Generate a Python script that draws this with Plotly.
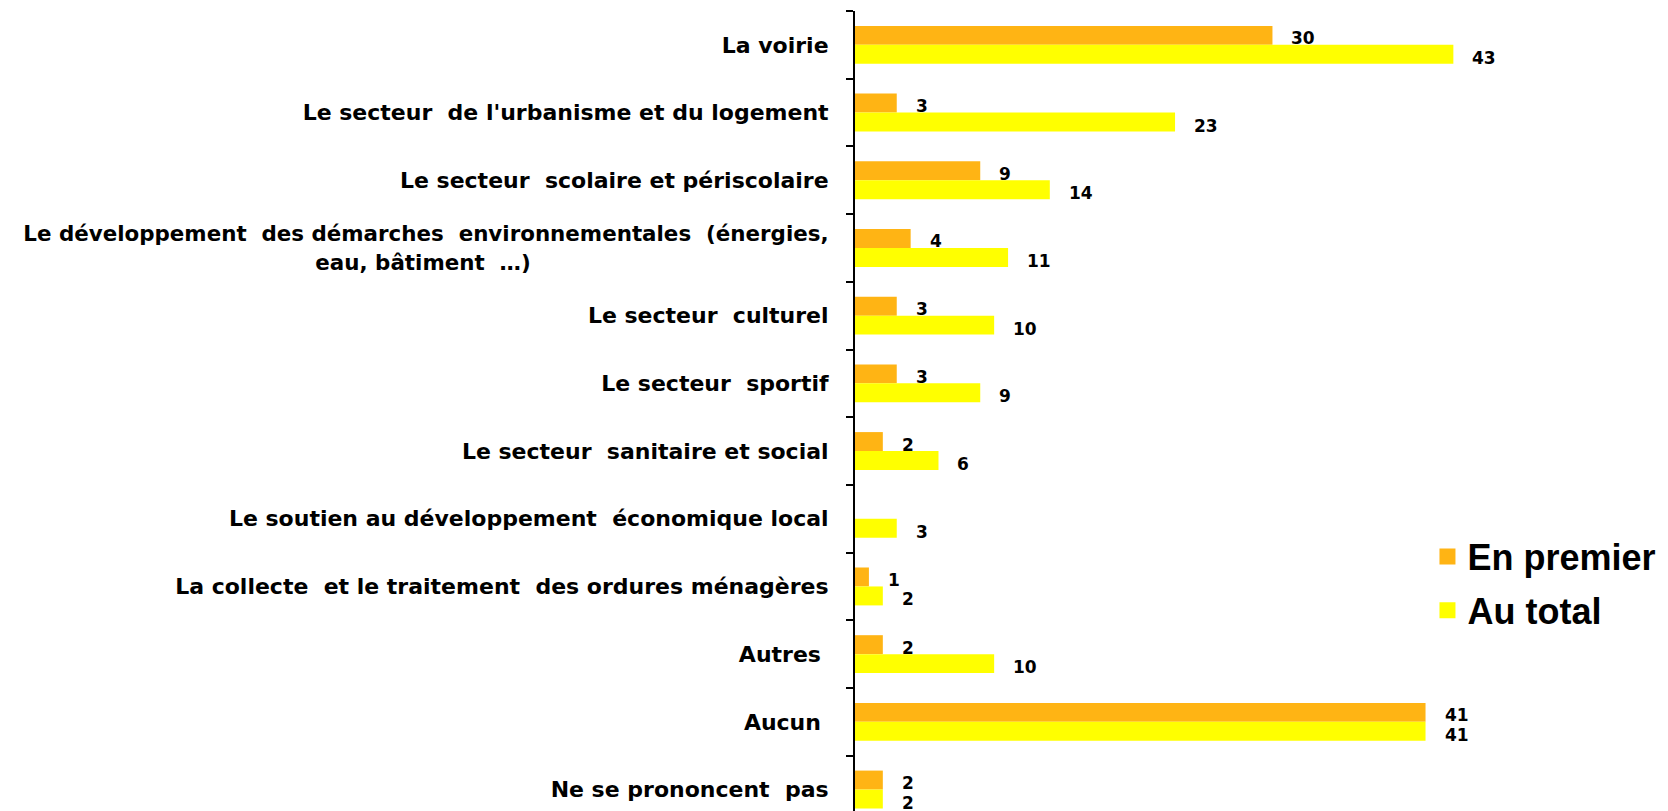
import plotly.graph_objects as go

NBSP = "\u00a0"

categories = [
    "La voirie",
    "Le secteur  de l'urbanisme et du logement",
    "Le secteur  scolaire et périscolaire",
    "<span style='font-size:21.4px'>Le développement  des démarches  environnementales  (énergies,</span><br>"
    "<span style='font-size:21.4px'>eau, bâtiment  …)" + NBSP * 40 + "</span>",
    "Le secteur  culturel",
    "Le secteur  sportif",
    "Le secteur  sanitaire et social",
    "Le soutien au développement  économique local",
    "La collecte  et le traitement  des ordures ménagères",
    "Autres ",
    "Aucun ",
    "Ne se prononcent  pas",
]
en_premier = [30, 3, 9, 4, 3, 3, 2, None, 1, 2, 41, 2]
au_total = [43, 23, 14, 11, 10, 9, 6, 3, 2, 10, 41, 2]

series_names = ["En premier", "Au total"]
series_colors = ["#FFB414", "#FFFF00"]

VALUE_FONT = dict(family="DejaVu Sans", size=17, color="black")

fig = go.Figure()
for name, vals, col in zip(series_names, [en_premier, au_total], series_colors):
    fig.add_trace(go.Bar(
        y=categories, x=vals, orientation="h", name=name,
        marker=dict(color=col, line=dict(width=0)),
        showlegend=False, hoverinfo="skip",
    ))
# legend entries (square swatches)
for name, col, grp in zip(series_names, series_colors, ["g1", "g2"]):
    fig.add_trace(go.Scatter(
        x=[None], y=[None], mode="markers", name=name,
        marker=dict(symbol="square", size=19, color=col),
        legendgroup=grp, showlegend=True, hoverinfo="skip",
    ))

annotations = []
for vals, yshift in [(en_premier, 6.5), (au_total, -13)]:
    for cat, v in zip(categories, vals):
        if v is None:
            continue
        annotations.append(dict(
            x=v, y=cat, xref="x", yref="y", text="<b>%d</b>" % v,
            showarrow=False, xanchor="left", yanchor="middle",
            xshift=17, yshift=yshift, font=VALUE_FONT,
        ))

fig.update_layout(
    width=1668, height=811,
    margin=dict(l=0, r=0, t=3, b=0, autoexpand=False),
    paper_bgcolor="white", plot_bgcolor="white",
    barmode="group", bargap=0.44, bargroupgap=0,
    showlegend=True,
    legend=dict(
        xref="paper", yref="paper",
        x=0.851, y=0.362, xanchor="left", yanchor="top",
        font=dict(family="Liberation Sans", size=36, color="black", weight="bold"),
        traceorder="grouped", tracegroupgap=4,
        bgcolor="rgba(0,0,0,0)", itemwidth=30,
    ),
    annotations=annotations,
    font=dict(family="DejaVu Sans", color="black"),
)

fig.update_xaxes(
    domain=[847 / 1668, 1], range=[0, 59.0],
    showgrid=False, zeroline=False, showticklabels=False, showline=False, ticks="",
)
fig.update_yaxes(
    type="category", range=[11.435, -0.5],
    showgrid=False, zeroline=False,
    showline=True, linecolor="black", linewidth=2,
    ticks="outside", tickson="boundaries", ticklen=7, tickwidth=2, tickcolor="black",
    tickfont=dict(family="DejaVu Sans", size=22, color="black", weight="bold"),
    ticklabelstandoff=20, automargin=False,
)

fig.write_html("out.html")
